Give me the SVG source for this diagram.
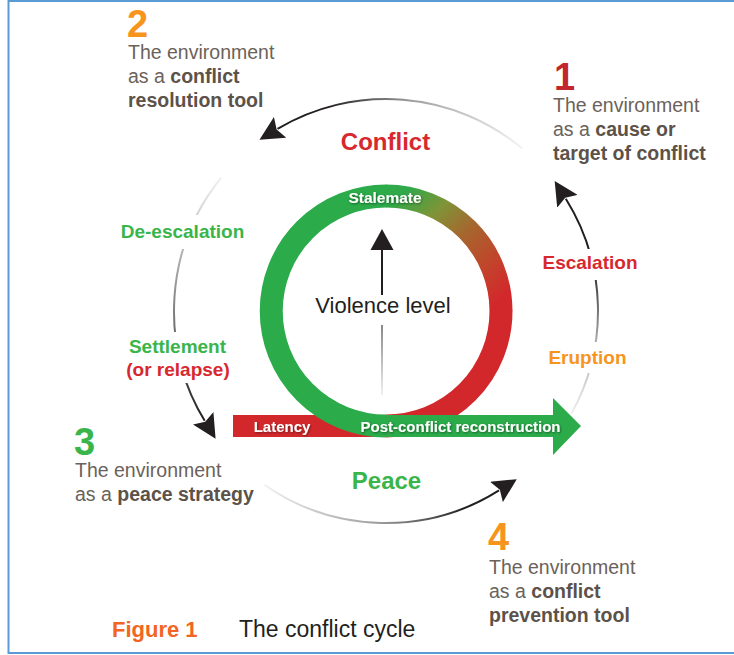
<svg xmlns="http://www.w3.org/2000/svg" width="734" height="655" viewBox="0 0 734 655">
<style>
text{font-family:"Liberation Sans",Arial,sans-serif}
.num{font-size:38px;font-weight:bold}
.desc{font-size:19.5px;fill:#6b625a}
.desc tspan.b{font-weight:bold;fill:#5c5249}
.lbl{font-size:19px;font-weight:bold;text-anchor:middle}
.big{font-size:24px;font-weight:bold;text-anchor:middle}
.wh{fill:#ffffff;font-weight:bold;filter:url(#sh)}
.arc{fill:none;stroke-width:2}
.gap{fill:#ffffff}
</style>
<defs>
<filter id="sh" x="-10%" y="-30%" width="120%" height="160%">
<feDropShadow dx="0.8" dy="1" stdDeviation="1" flood-color="#000000" flood-opacity="0.45"/>
</filter>
<marker id="ah" viewBox="0 0 24 24" refX="3" refY="12" markerWidth="24" markerHeight="24" markerUnits="userSpaceOnUse" orient="auto">
<path d="M0,0 L24,12 L0,24 L4,12 z" fill="#231f20"/>
</marker>
<linearGradient id="gRing" gradientUnits="userSpaceOnUse" x1="400" y1="196" x2="500" y2="300">
<stop offset="0" stop-color="#2fa949"/>
<stop offset="0.25" stop-color="#7f9438"/>
<stop offset="0.5" stop-color="#a6662e"/>
<stop offset="0.8" stop-color="#c5402b"/>
<stop offset="1" stop-color="#d2282b"/>
</linearGradient>
<linearGradient id="gTop" gradientUnits="userSpaceOnUse" x1="522" y1="0" x2="280" y2="0">
<stop offset="0" stop-color="#f2f2f2"/>
<stop offset="0.45" stop-color="#a0a0a0"/>
<stop offset="0.8" stop-color="#231f20"/>
</linearGradient>
<linearGradient id="gRight" gradientUnits="userSpaceOnUse" x1="0" y1="414" x2="0" y2="200">
<stop offset="0" stop-color="#f0f0f0"/>
<stop offset="0.35" stop-color="#a8a8a8"/>
<stop offset="0.7" stop-color="#231f20"/>
</linearGradient>
<linearGradient id="gLeft" gradientUnits="userSpaceOnUse" x1="0" y1="178" x2="0" y2="420">
<stop offset="0" stop-color="#f0f0f0"/>
<stop offset="0.4" stop-color="#a0a0a0"/>
<stop offset="0.75" stop-color="#555555"/>
<stop offset="1" stop-color="#231f20"/>
</linearGradient>
<linearGradient id="gBottom" gradientUnits="userSpaceOnUse" x1="265" y1="0" x2="500" y2="0">
<stop offset="0" stop-color="#f0f0f0"/>
<stop offset="0.5" stop-color="#9a9a9a"/>
<stop offset="0.85" stop-color="#231f20"/>
</linearGradient>
<linearGradient id="gVio" gradientUnits="userSpaceOnUse" x1="0" y1="325" x2="0" y2="395">
<stop offset="0" stop-color="#888888"/>
<stop offset="1" stop-color="#f0f0f0"/>
</linearGradient>
</defs>

<rect x="0" y="0" width="734" height="655" fill="#ffffff"/>
<rect id="frame" x="8.5" y="1" width="740" height="652" fill="none" stroke="#5b9bd5" stroke-width="2"/>

<g id="connectors">
<path class="arc" stroke="url(#gTop)" d="M522.3,148.6 A212,212 0 0 0 277.5,128.9" marker-end="url(#ah)"/>
<path class="arc" stroke="url(#gRight)" d="M571.4,413.8 A212,212 0 0 0 565.8,198.7" marker-end="url(#ah)"/>
<path class="arc" stroke="url(#gLeft)" d="M221.2,177.6 A212,212 0 0 0 204.7,420.8" marker-end="url(#ah)"/>
<path class="arc" stroke="url(#gBottom)" d="M264.4,484.7 A212,212 0 0 0 499.0,490.4" marker-end="url(#ah)"/>
</g>

<g id="node-bar">
<rect x="233" y="415" width="154" height="22" fill="#d2282b"/>
</g>

<g id="node-ring" fill="none" stroke-width="23">
<path d="M386,196 A115,115 0 0 1 501,311" stroke="url(#gRing)"/>
<path d="M501,310.5 A115,115 0 0 1 386,426" stroke="#d2282b"/>
<path d="M386.5,196 A115,115 0 0 0 386,426" stroke="#2bab4a"/>
</g>

<g id="node-arrow">
<polygon points="386,415 553,415 553,398 581,426 553,455 553,437 386,437" fill="#2bab4a"/>
<text class="wh" x="282" y="432" font-size="15" text-anchor="middle">Latency</text>
<text class="wh" x="460.5" y="432" font-size="15" text-anchor="middle">Post-conflict reconstruction</text>
<text class="wh" x="385" y="203" font-size="15.5" text-anchor="middle">Stalemate</text>
</g>

<g id="node-violence">
<line x1="382" y1="295" x2="382" y2="248" stroke="#231f20" stroke-width="2"/>
<polygon points="382,229 370.5,250 393.5,250" fill="#231f20"/>
<line x1="382" y1="325" x2="382" y2="395" stroke="url(#gVio)" stroke-width="2"/>
<text x="383" y="313" font-size="22" fill="#231f20" text-anchor="middle">Violence level</text>
</g>

<g id="label-conflict"><text class="big" x="385.5" y="150" fill="#d7282f">Conflict</text></g>
<g id="label-peace"><text class="big" x="386.5" y="489" fill="#39b54a">Peace</text></g>

<g id="label-deescalation">
<rect class="gap" x="115" y="215" width="135" height="34"/>
<text class="lbl" x="182.5" y="238" fill="#39b54a">De-escalation</text>
</g>
<g id="label-settlement">
<rect class="gap" x="120" y="332" width="115" height="51"/>
<text class="lbl" x="177.5" y="353" fill="#39b54a">Settlement</text>
<text class="lbl" x="178" y="376" fill="#d7282f">(or relapse)</text>
</g>
<g id="label-escalation">
<rect class="gap" x="538" y="249" width="104" height="31"/>
<text class="lbl" x="590" y="269" fill="#d7282f">Escalation</text>
</g>
<g id="label-eruption">
<rect class="gap" x="544" y="342" width="87" height="31"/>
<text class="lbl" x="587.5" y="364" fill="#f7941d">Eruption</text>
</g>

<g id="node-1">
<text class="num" x="554" y="90" fill="#c1272d">1</text>
<text class="desc" x="553" y="112">The environment</text>
<text class="desc" x="553" y="136">as a <tspan class="b">cause or</tspan></text>
<text class="desc" x="553" y="160"><tspan class="b">target of conflict</tspan></text>
</g>
<g id="node-2">
<text class="num" x="127" y="37" fill="#f7941d">2</text>
<text class="desc" x="128" y="59">The environment</text>
<text class="desc" x="128" y="83">as a <tspan class="b">conflict</tspan></text>
<text class="desc" x="128" y="107"><tspan class="b">resolution tool</tspan></text>
</g>
<g id="node-3">
<text class="num" x="74" y="455" fill="#39b54a">3</text>
<text class="desc" x="75" y="477">The environment</text>
<text class="desc" x="75" y="501">as a <tspan class="b">peace strategy</tspan></text>
</g>
<g id="node-4">
<text class="num" x="488" y="550" fill="#f7941d">4</text>
<text class="desc" x="489" y="574">The environment</text>
<text class="desc" x="489" y="598">as a <tspan class="b">conflict</tspan></text>
<text class="desc" x="489" y="622"><tspan class="b">prevention tool</tspan></text>
</g>

<g id="caption">
<text x="112" y="637" font-size="22" font-weight="bold" fill="#f26522">Figure 1</text>
<text x="239" y="637" font-size="23" fill="#231f20">The conflict cycle</text>
</g>
</svg>
